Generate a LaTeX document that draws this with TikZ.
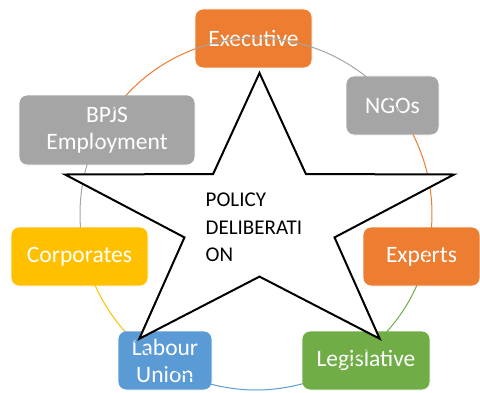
\documentclass[tikz,border=0pt]{standalone}
\usepackage{fontspec}
\setmainfont{Carlito}
\definecolor{cOrange}{HTML}{ED7D31}
\definecolor{cGray}{HTML}{A5A5A5}
\definecolor{cYellow}{HTML}{FFC000}
\definecolor{cBlue}{HTML}{5B9BD5}
\definecolor{cGreen}{HTML}{70AD47}
\tikzset{
  box/.style={rectangle, rounded corners=8pt, draw=white, line width=0.8pt,
    text=white, align=center, inner sep=0pt,
    font=\fontsize{23.5}{27}\selectfont},
  arcline/.style={line width=1pt},
  starline/.style={draw=black, fill=white, line width=2pt, line join=miter},
  startext/.style={align=left, anchor=north west, inner sep=0pt,
    font=\fontsize{21}{27.5}\selectfont, text=black}
}
\begin{document}
\begin{tikzpicture}[x=1pt,y=1pt]
\useasboundingbox (0,0) rectangle (480,392);
% boxes
\node[box, fill=cOrange, minimum width=117pt, minimum height=59pt] (exec) at (253.5,353.5) {Executive};
\node[box, fill=cGray, minimum width=93pt, minimum height=59pt] (ngos) at (392.5,286.5) {NGOs};
\node[box, fill=cOrange, minimum width=117pt, minimum height=59pt] (experts) at (421.5,135.5) {Experts};
\node[box, fill=cGreen, minimum width=128pt, minimum height=59pt] (legis) at (366,31.5) {Legislative};
\node[box, fill=cBlue, minimum width=94pt, minimum height=59pt] (labour) at (165,31.5) {Labour\\Union};
\node[box, fill=cYellow, minimum width=137pt, minimum height=59pt] (corp) at (79.5,135.5) {Corporates};
\node[box, fill=cGray, minimum width=176pt, minimum height=70pt] (bpjs) at (107,262) {BPJS\\Employment};
% cycle arcs
\coordinate (C) at (256,178);
\coordinate (a1) at ([shift={(C)}]110.3:176pt);
\coordinate (a2) at ([shift={(C)}]26.7:176pt);
\coordinate (a3) at ([shift={(C)}]-24.2:176pt);
\coordinate (a4) at ([shift={(C)}]-74.9:176pt);
\coordinate (a5) at ([shift={(C)}]-138.3:176pt);
\coordinate (a6) at ([shift={(C)}]-175.8:176pt);
\coordinate (a7) at ([shift={(C)}]137.5:176pt);
\draw[arcline, cGray]   (a1) arc[start angle=110.3, end angle=26.7, radius=176pt];
\draw[arcline, cOrange] (a2) arc[start angle=26.7, end angle=-24.2, radius=176pt];
\draw[arcline, cGreen]  (a3) arc[start angle=-24.2, end angle=-74.9, radius=176pt];
\draw[arcline, cBlue]   (a4) arc[start angle=-74.9, end angle=-138.3, radius=176pt];
\draw[arcline, cYellow] (a5) arc[start angle=-138.3, end angle=-175.8, radius=176pt];
\draw[arcline, cGray]   (a6) arc[start angle=184.2, end angle=137.5, radius=176pt];
\draw[arcline, cOrange] (a7) arc[start angle=137.5, end angle=110.3, radius=176pt];
% star
\coordinate (S) at (259.5,172.1);
\draw[starline]
  ([shift={(S)}]90:204.5pt and 146.9pt) --
  ([shift={(S)}]126:78.9pt and 56.7pt) --
  ([shift={(S)}]162:204.5pt and 146.9pt) --
  ([shift={(S)}]198:78.9pt and 56.7pt) --
  ([shift={(S)}]234:204.5pt and 146.9pt) --
  ([shift={(S)}]270:78.9pt and 56.7pt) --
  ([shift={(S)}]306:204.5pt and 146.9pt) --
  ([shift={(S)}]342:78.9pt and 56.7pt) --
  ([shift={(S)}]18:204.5pt and 146.9pt) --
  ([shift={(S)}]54:78.9pt and 56.7pt) -- cycle;
\node[startext] (policy) at (205.5,199) {POLICY\\DELIBERATI\\ON};
\end{tikzpicture}
\end{document}
